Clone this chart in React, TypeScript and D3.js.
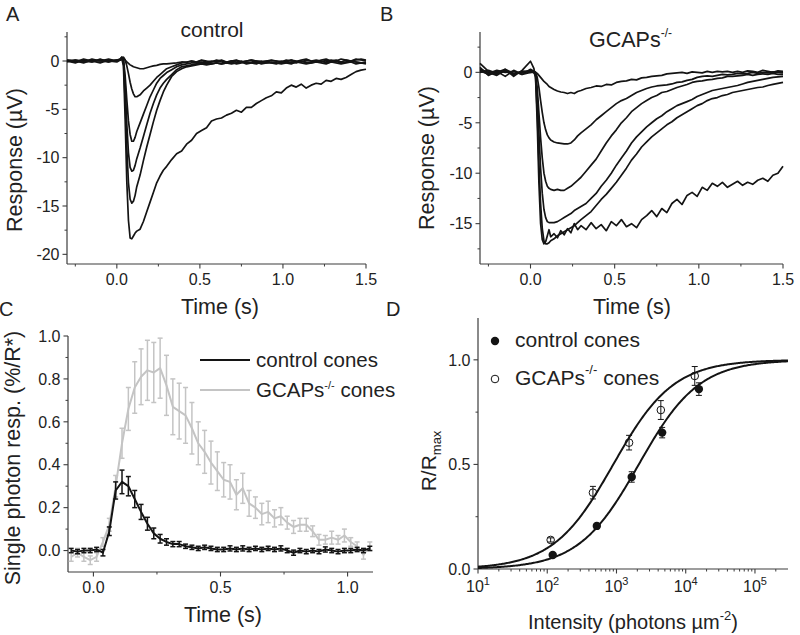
import React from "react";
import * as d3 from "d3";

const FONT = "'Liberation Sans', Arial, Helvetica, sans-serif";
const AXIS = "#3c3c3c";
const INK = "#141414";
const LIGHT = "#c4c4c4";
const TXT = "#222";

// ---------- Panels A & B: flash response families (time in s, response in µV)
const TRACE_TIME = [
  -0.3, -0.25, -0.2, -0.15, -0.1, -0.05, 0,
  0.02, 0.03, 0.04, 0.05, 0.06, 0.07, 0.08, 0.09, 0.1, 0.11, 0.12,
  0.14, 0.16, 0.18, 0.2, 0.22, 0.24, 0.26, 0.28, 0.3,
  0.33, 0.36, 0.39, 0.42, 0.45, 0.48, 0.51, 0.54, 0.57, 0.6,
  0.63, 0.66, 0.69, 0.72, 0.75, 0.78, 0.81, 0.84, 0.87, 0.9,
  0.93, 0.96, 0.99, 1.02, 1.05, 1.08, 1.11, 1.14, 1.17, 1.2,
  1.23, 1.26, 1.29, 1.32, 1.35, 1.38, 1.41, 1.44, 1.47, 1.5,
];

const A_TRACE_1 = [
  0.0, -0.2, 0.1, -0.1, 0.2, -0.1, 0.1,
  0.1, 0.2, 0.3, 0.1, -0.1, -0.25, -0.4, -0.5, -0.6, -0.65, -0.7,
  -0.8, -0.8, -0.7, -0.6, -0.5, -0.45, -0.35, -0.3, -0.3,
  -0.25, -0.2, -0.1, -0.15, 0.0, -0.1, 0.05, -0.1, 0.0, -0.05,
  0.1, -0.1, 0.0, 0.05, -0.1, 0.0, 0.1, -0.05, 0.0, -0.1,
  0.05, 0.0, -0.1, 0.1, 0.0, -0.05, 0.1, 0.2, 0.0, -0.1,
  0.1, 0.2, 0.0, 0.1, -0.1, 0.1, 0.0, 0.2, 0.1, 0.0,
];
const A_TRACE_2 = [
  0.1, 0.0, -0.2, 0.1, 0.0, 0.2, 0.0,
  0.1, 0.3, 0.4, 0.1, -0.5, -1.3, -2.2, -2.9, -3.4, -3.7, -3.7,
  -3.5, -3.1, -2.8, -2.5, -2.1, -1.7, -1.4, -1.1, -0.8,
  -0.6, -0.4, -0.2, -0.1, 0.0, -0.1, 0.1, 0.0, -0.1, 0.1,
  0.0, -0.1, 0.0, 0.1, -0.1, 0.0, 0.1, 0.0, -0.1, 0.0,
  0.1, 0.0, -0.1, 0.0, 0.1, 0.0, -0.1, 0.1, 0.0, 0.1,
  0.0, -0.1, 0.1, 0.0, 0.2, 0.1, 0.0, 0.1, 0.2, 0.1,
];
const A_TRACE_3 = [
  -0.1, 0.1, 0.0, -0.1, 0.1, 0.0, 0.1,
  0.1, 0.4, 0.2, -1.5, -4.0, -6.2, -7.6, -8.3, -8.3, -7.9, -7.3,
  -6.4, -5.5, -4.6, -3.7, -3.0, -2.3, -1.8, -1.5, -1.2,
  -0.9, -0.6, -0.4, -0.3, -0.2, -0.2, -0.1, -0.2, -0.1, 0.0,
  -0.1, -0.2, 0.0, -0.1, 0.0, -0.2, -0.1, 0.0, -0.1, 0.0,
  -0.2, -0.1, 0.0, -0.1, 0.1, -0.1, 0.0, -0.2, -0.1, 0.0,
  -0.1, 0.1, -0.1, 0.0, -0.2, -0.1, 0.0, -0.1, -0.2, -0.1,
];
const A_TRACE_4 = [
  0.0, -0.1, 0.2, 0.0, -0.2, 0.1, 0.0,
  0.2, 0.4, 0.1, -2.5, -6.5, -9.5, -11.0, -11.4, -11.3, -10.8, -10.1,
  -9.0, -7.8, -6.6, -5.4, -4.4, -3.5, -2.8, -2.3, -1.9,
  -1.4, -0.9, -0.6, -0.5, -0.4, -0.3, -0.3, -0.2, -0.3, -0.2,
  -0.3, -0.2, -0.3, -0.2, -0.1, -0.3, -0.2, -0.1, -0.3, -0.2,
  -0.2, -0.3, -0.1, -0.2, -0.3, -0.1, -0.2, -0.3, -0.2, -0.1,
  -0.2, -0.3, -0.1, -0.2, -0.3, -0.2, -0.1, -0.3, -0.2, -0.3,
];
const A_TRACE_5 = [
  0.1, 0.0, -0.1, 0.2, 0.0, -0.1, 0.1,
  0.2, 0.3, -0.2, -4.0, -9.0, -12.6, -14.3, -14.7, -14.5, -13.9, -13.0,
  -11.8, -10.3, -8.9, -7.6, -6.3, -5.1, -4.1, -3.2, -2.5,
  -1.6, -1.1, -0.8, -0.6, -0.5, -0.4, -0.3, -0.4, -0.3, -0.2,
  -0.3, -0.2, -0.1, -0.3, -0.2, -0.1, -0.2, -0.3, -0.1, -0.2,
  -0.1, -0.2, -0.3, -0.2, -0.1, -0.2, 0.0, -0.1, -0.2, -0.1,
  0.0, -0.2, -0.1, 0.0, -0.2, -0.1, 0.0, -0.1, -0.2, -0.2,
];
const A_TRACE_6 = [
  0.0, 0.1, -0.1, 0.0, 0.1, 0.0, -0.1,
  0.1, 0.2, -0.5, -6.0, -12.5, -16.5, -18.3, -18.4, -18.1, -17.8, -17.6,
  -17.4, -16.6, -15.6, -14.6, -13.6, -12.6, -11.9, -11.3, -10.9,
  -10.2, -9.6, -9.3, -8.6, -8.2, -7.5, -7.2, -6.9, -6.2, -6.0,
  -5.9, -5.6, -5.4, -5.1, -5.3, -4.8, -4.8, -4.4, -4.1, -3.8,
  -3.6, -3.2, -3.3, -2.8, -2.5, -2.7, -2.4, -2.8, -2.5, -2.3,
  -2.4, -2.0, -2.1, -1.8, -1.9, -1.7, -1.4, -1.1, -0.95, -0.85,
];

const B_TRACE_1 = [
  0.5, -0.3, 0.1, -0.4, 0.2, -0.2, 0.3,
  0.1, 0.0, -0.1, -0.3, -0.5, -0.7, -0.9, -1.05, -1.2, -1.4, -1.5,
  -1.7, -1.85, -1.95, -2.0, -2.1, -2.0, -2.1, -1.9, -1.8,
  -1.6, -1.5, -1.35, -1.4, -1.2, -1.25, -1.0, -0.9, -0.85, -0.7,
  -0.75, -0.55, -0.5, -0.4, -0.35, -0.3, -0.15, -0.1, -0.05, 0.0,
  -0.1, 0.05, 0.0, -0.05, 0.1, 0.0, 0.1, 0.05, 0.1, 0.0,
  0.1, 0.0, 0.15, 0.1, 0.0, 0.2, 0.1, 0.0, 0.15, 0.1,
];
const B_TRACE_2 = [
  0.3, 0.0, -0.3, 0.2, -0.2, 0.1, 0.0,
  0.1, 0.0, -0.5, -1.5, -2.8, -4.0, -5.0, -5.7, -6.2, -6.5, -6.7,
  -6.9, -7.0, -7.05, -7.1, -7.1, -7.0, -6.7, -6.3, -6.0,
  -5.6, -5.2, -4.7, -4.3, -3.9, -3.5, -3.1, -2.8, -2.6, -2.3,
  -2.0, -1.8, -1.6, -1.45, -1.35, -1.3, -1.25, -1.15, -1.0, -0.95,
  -0.8, -0.7, -0.5, -0.4, -0.35, -0.4, -0.3, -0.2, -0.25, -0.2,
  -0.1, -0.15, -0.1, 0.0, -0.1, 0.0, -0.05, 0.05, 0.0, -0.05,
];
const B_TRACE_3 = [
  0.2, -0.2, 0.0, 0.3, -0.1, 0.0, 0.2,
  0.1, -0.2, -1.5, -4.0, -6.5, -8.5, -10.0, -10.8, -11.3, -11.5, -11.6,
  -11.7, -11.6, -11.7, -11.7, -11.5, -11.3, -11.0, -10.7, -10.4,
  -9.8, -9.2, -8.6, -7.8, -7.0, -6.3, -5.7, -5.0, -4.5, -3.9,
  -3.5, -3.1, -2.8, -2.5, -2.3, -2.0, -1.9, -1.7, -1.5, -1.35,
  -1.2, -1.0, -0.9, -0.85, -0.75, -0.7, -0.6, -0.55, -0.4, -0.4,
  -0.35, -0.3, -0.2, -0.3, -0.2, -0.15, -0.2, -0.1, -0.2, -0.2,
];
const B_TRACE_4 = [
  0.0, 0.2, -0.1, 0.1, -0.2, 0.1, 0.1,
  0.0, -0.3, -2.5, -6.0, -9.5, -12.0, -13.6, -14.4, -14.8, -14.9, -14.9,
  -14.9, -14.8, -14.6, -14.4, -14.2, -14.0, -13.7, -13.5, -13.3,
  -13.0, -12.5, -12.0, -11.3, -10.7, -10.0, -9.2, -8.5, -7.8, -7.0,
  -6.4, -5.9, -5.4, -5.0, -4.6, -4.3, -3.9, -3.6, -3.3, -3.1,
  -2.9, -2.7, -2.4, -2.2, -2.0, -1.8, -1.7, -1.6, -1.5, -1.4,
  -1.3, -1.15, -1.0, -0.9, -0.8, -0.7, -0.6, -0.5, -0.45, -0.4,
];
const B_TRACE_5 = [
  0.1, -0.1, 0.2, 0.0, 0.1, -0.2, 0.0,
  0.0, -0.4, -4.0, -9.0, -13.0, -15.5, -16.7, -17.0, -17.0, -16.9, -16.7,
  -16.5, -16.2, -16.0, -15.8, -15.6, -15.4, -15.2, -14.9, -14.6,
  -14.2, -13.8, -13.2, -12.6, -12.1, -11.5, -10.9, -10.2, -9.5, -8.7,
  -8.1, -7.4, -6.9, -6.4, -6.0, -5.6, -5.2, -4.9, -4.5, -4.2,
  -3.9, -3.6, -3.3, -3.1, -2.8, -2.6, -2.5, -2.3, -2.2, -2.0,
  -1.9, -1.8, -1.7, -1.6, -1.5, -1.45, -1.3, -1.2, -1.1, -1.0,
];
const B_TRACE_6 = [
  0.9, 0.1, -0.2, 0.3, -0.4, 0.2, 1.1,
  0.4, -0.5, -5.0, -11.0, -15.0, -16.6, -17.0, -16.8, -16.2, -15.6, -16.3,
  -16.0, -16.4, -15.7, -16.1, -15.5, -15.9, -15.0, -15.6, -15.2,
  -15.6, -14.9, -15.5, -15.1, -15.7, -14.8, -15.2, -14.6, -15.3, -15.0,
  -15.4, -14.6, -14.2, -13.7, -14.3, -13.5, -13.9, -13.0, -12.6, -13.1,
  -12.2, -11.9, -12.3, -11.4, -11.7, -11.0, -11.3, -10.9, -11.4, -11.1,
  -10.8, -11.2, -10.9, -11.1, -10.7, -10.5, -10.8, -10.2, -10.0, -9.3,
];

const A_TRACES = [A_TRACE_1, A_TRACE_2, A_TRACE_3, A_TRACE_4, A_TRACE_5, A_TRACE_6];
const B_TRACES = [B_TRACE_1, B_TRACE_2, B_TRACE_3, B_TRACE_4, B_TRACE_5, B_TRACE_6];

// ---------- Panel C: single photon responses (%/R*)
const C_TIME = [
  -0.0875, -0.0625, -0.0375, -0.0125, 0.0125, 0.0375, 0.0625, 0.0875,
  0.1125, 0.1375, 0.1625, 0.1875, 0.2125, 0.2375, 0.2625, 0.2875,
  0.3125, 0.3375, 0.3625, 0.3875, 0.4125, 0.4375, 0.4625, 0.4875,
  0.5125, 0.5375, 0.5625, 0.5875, 0.6125, 0.6375, 0.6625, 0.6875,
  0.7125, 0.7375, 0.7625, 0.7875, 0.8125, 0.8375, 0.8625, 0.8875,
  0.9125, 0.9375, 0.9625, 0.9875, 1.0125, 1.0375, 1.0625, 1.0875,
];
const C_CONTROL = [
  0.0, -0.005, 0.0, 0.0, 0.005, -0.01, 0.09, 0.28,
  0.32, 0.3, 0.24, 0.18, 0.125, 0.08, 0.055, 0.04,
  0.03, 0.03, 0.02, 0.015, 0.01, 0.015, 0.01, 0.005,
  0.005, 0.01, 0.005, 0.01, 0.005, 0.01, 0.005, 0.01,
  0.005, 0.01, 0.0, -0.01, 0.0, -0.005, 0.0, -0.005,
  0.005, 0.0, -0.005, 0.0, 0.0, 0.005, 0.0, 0.01,
];
const C_CONTROL_ERR = [
  0.01, 0.01, 0.01, 0.01, 0.01, 0.015, 0.02, 0.04,
  0.055, 0.045, 0.04, 0.035, 0.03, 0.025, 0.02, 0.015,
  0.012, 0.012, 0.01, 0.01, 0.01, 0.01, 0.01, 0.01,
  0.01, 0.012, 0.01, 0.012, 0.01, 0.01, 0.01, 0.01,
  0.01, 0.012, 0.01, 0.012, 0.01, 0.01, 0.01, 0.01,
  0.012, 0.01, 0.01, 0.01, 0.01, 0.01, 0.01, 0.01,
];
const C_GCAPS = [
  -0.03, -0.01, -0.03, -0.045, -0.03, 0.04, 0.12, 0.3,
  0.5, 0.66, 0.76, 0.81, 0.84, 0.83, 0.85, 0.77,
  0.67, 0.65, 0.63, 0.57, 0.5, 0.46, 0.41, 0.37,
  0.33, 0.32, 0.26, 0.29, 0.22, 0.2, 0.17, 0.18,
  0.15, 0.16, 0.13, 0.11, 0.12, 0.12, 0.09, 0.05,
  0.05, 0.06, 0.05, 0.07, 0.04, 0.02, -0.02, 0.02,
];
const C_GCAPS_ERR = [
  0.02, 0.02, 0.02, 0.02, 0.02, 0.02, 0.03, 0.05,
  0.07, 0.1, 0.12, 0.13, 0.14, 0.14, 0.14, 0.14,
  0.13, 0.13, 0.13, 0.12, 0.1, 0.1, 0.1, 0.09,
  0.08, 0.08, 0.07, 0.07, 0.06, 0.05, 0.05, 0.05,
  0.04, 0.04, 0.03, 0.03, 0.03, 0.03, 0.025, 0.025,
  0.02, 0.03, 0.02, 0.03, 0.02, 0.02, 0.02, 0.02,
];

// ---------- Panel D: intensity-response (R/Rmax)
const D_CONTROL_I = [120, 520, 1660, 4570, 15500];
const D_CONTROL_R = [0.067, 0.206, 0.44, 0.652, 0.86];
const D_CONTROL_ERR = [0.008, 0.012, 0.025, 0.025, 0.03];
const D_GCAPS_I = [112, 457, 1520, 4370, 13500];
const D_GCAPS_R = [0.139, 0.365, 0.604, 0.76, 0.923];
const D_GCAPS_ERR = [0.01, 0.03, 0.035, 0.045, 0.045];
// half-saturating intensities of the Michaelis fits: [control, GCAPs-/-]
const D_FIT_HALF = [2100, 900];
const D_DECADES = [10, 100, 1000, 10000, 100000];

// ---------- scales
const xA = d3.scaleLinear().domain([-0.3, 1.5]).range([67, 366]);
const yA = d3.scaleLinear().domain([-21, 3]).range([264, 32]);
const xB = d3.scaleLinear().domain([-0.3, 1.5]).range([480, 783]);
const yB = d3.scaleLinear().domain([-19, 4]).range([264, 32]);
const xC = d3.scaleLinear().domain([-0.1, 1.1]).range([68, 373]);
const yC = d3.scaleLinear().domain([-0.1, 1.0]).range([572, 336]);
const xD = d3.scaleLog().domain([10, 3e5]).range([478, 788]);
const yD = d3.scaleLinear().domain([0, 1.2]).range([569, 318]);

const fmt1 = d3.format(".1f");
const fmtInt = (v: number) => String(v);

function LeftAxis({ x, scale, major, minor, fmt }: any) {
  const [r0, r1] = scale.range();
  return (
    <g>
      <line x1={x} x2={x} y1={r0} y2={r1} stroke={AXIS} strokeWidth={1.2} />
      {minor.map((v: number) => (
        <line key={"m" + v} x1={x - 2.5} x2={x} y1={scale(v)} y2={scale(v)} stroke={AXIS} strokeWidth={1} />
      ))}
      {major.map((v: number) => (
        <g key={"M" + v}>
          <line x1={x - 4.5} x2={x} y1={scale(v)} y2={scale(v)} stroke={AXIS} strokeWidth={1.1} />
          <text x={x - 7.5} y={scale(v)} dy="0.36em" textAnchor="end" fontSize={16} fill={TXT}>
            {fmt(v)}
          </text>
        </g>
      ))}
    </g>
  );
}

function BottomAxis({ y, scale, major, minor, fmt, labelDy = 21 }: any) {
  const [r0, r1] = scale.range();
  return (
    <g>
      <line x1={r0} x2={r1} y1={y} y2={y} stroke={AXIS} strokeWidth={1.2} />
      {minor.map((v: number) => (
        <line key={"m" + v} x1={scale(v)} x2={scale(v)} y1={y} y2={y + 2.5} stroke={AXIS} strokeWidth={1} />
      ))}
      {major.map((v: number) => (
        <g key={"M" + v}>
          <line x1={scale(v)} x2={scale(v)} y1={y} y2={y + 4.5} stroke={AXIS} strokeWidth={1.1} />
          <text x={scale(v)} y={y + labelDy} textAnchor="middle" fontSize={16} fill={TXT}>
            {fmt(v)}
          </text>
        </g>
      ))}
    </g>
  );
}

function Traces({ traces, x, y }: any) {
  const line = d3
    .line<number>()
    .x((_, i) => x(TRACE_TIME[i]))
    .y((v) => y(v));
  return (
    <g>
      {traces.map((tr: number[], i: number) => (
        <path key={i} d={line(tr) || ""} fill="none" stroke={INK} strokeWidth={1.7} strokeLinejoin="round" />
      ))}
    </g>
  );
}

function SeriesWithErr({ values, errs, color, width }: any) {
  const line = d3
    .line<number>()
    .x((_, i) => xC(C_TIME[i]))
    .y((v) => yC(v));
  return (
    <g>
      {values.map((v: number, i: number) => {
        const cx = xC(C_TIME[i]);
        const y1 = yC(v - errs[i]);
        const y2 = yC(v + errs[i]);
        return (
          <g key={i} stroke={color} strokeWidth={1.5}>
            <line x1={cx} x2={cx} y1={y1} y2={y2} />
            <line x1={cx - 2.5} x2={cx + 2.5} y1={y1} y2={y1} />
            <line x1={cx - 2.5} x2={cx + 2.5} y1={y2} y2={y2} />
          </g>
        );
      })}
      <path d={line(values) || ""} fill="none" stroke={color} strokeWidth={width} strokeLinejoin="round" />
    </g>
  );
}

export default function App() {
  const yTicksAMinor = [2.5, -2.5, -7.5, -12.5, -17.5];
  const xTicksABMinor = [-0.25, 0.25, 0.75, 1.25];
  const [dLo, dHi] = xD.domain();
  const dMinorX: number[] = [];
  D_DECADES.forEach((dec) => {
    [2, 3, 4, 5, 6, 7, 8, 9].forEach((m) => {
      const v = dec * m;
      if (v > dLo && v < dHi) dMinorX.push(v);
    });
  });
  // sample the fit curve evenly in log-space across the axis
  const fitX = d3.range(0, 301).map((i) => Math.pow(10, Math.log10(dLo) + (i / 300) * (Math.log10(dHi) - Math.log10(dLo))));
  const fitLine = (half: number) =>
    d3
      .line<number>()
      .x((v) => xD(v))
      .y((v) => yD(v / (v + half)))(fitX) || "";

  return (
    <svg
      width={800}
      height={635}
      style={{ position: "absolute", left: 0, top: 0, background: "#fff" }}
      fontFamily={FONT}
    >
      <rect x={0} y={0} width={800} height={635} fill="#fff" />

      {/* Panel letters */}
      <g fontSize={20} fill={TXT}>
        <text x={6} y={21}>A</text>
        <text x={380} y={21}>B</text>
        <text x={-1} y={316}>C</text>
        <text x={386} y={316}>D</text>
      </g>

      {/* ---------------- Panel A ---------------- */}
      <LeftAxis x={67} scale={yA} major={[0, -5, -10, -15, -20]} minor={yTicksAMinor} fmt={fmtInt} />
      <BottomAxis y={264} scale={xA} major={[0, 0.5, 1, 1.5]} minor={xTicksABMinor} fmt={fmt1} />
      <Traces traces={A_TRACES} x={xA} y={yA} />
      <text x={212} y={37} textAnchor="middle" fontSize={21} fill={TXT}>control</text>
      <text transform="translate(22,160) rotate(-90)" textAnchor="middle" fontSize={21.5} fill={TXT}>
        Response (µV)
      </text>
      <text x={220} y={314} textAnchor="middle" fontSize={21.5} fill={TXT}>Time (s)</text>

      {/* ---------------- Panel B ---------------- */}
      <LeftAxis x={480} scale={yB} major={[0, -5, -10, -15]} minor={[2.5, -2.5, -7.5, -12.5, -17.5]} fmt={fmtInt} />
      <BottomAxis y={264} scale={xB} major={[0, 0.5, 1, 1.5]} minor={xTicksABMinor} fmt={fmt1} />
      <Traces traces={B_TRACES} x={xB} y={yB} />
      <text x={589} y={46.5} fontSize={21.5} fill={TXT}>
        GCAPs
        <tspan fontSize={12} dy={-10}>-/-</tspan>
      </text>
      <text transform="translate(434,158) rotate(-90)" textAnchor="middle" fontSize={21.5} fill={TXT}>
        Response (µV)
      </text>
      <text x={632} y={314} textAnchor="middle" fontSize={21.5} fill={TXT}>Time (s)</text>

      {/* ---------------- Panel C ---------------- */}
      <LeftAxis
        x={68}
        scale={yC}
        major={[0, 0.2, 0.4, 0.6, 0.8, 1.0]}
        minor={[0.1, 0.3, 0.5, 0.7, 0.9]}
        fmt={fmt1}
      />
      <BottomAxis y={572} scale={xC} major={[0, 0.5, 1.0]} minor={[0.25, 0.75]} fmt={fmt1} />
      <SeriesWithErr values={C_GCAPS} errs={C_GCAPS_ERR} color={LIGHT} width={2} />
      <SeriesWithErr values={C_CONTROL} errs={C_CONTROL_ERR} color={INK} width={2} />
      <line x1={200} x2={250} y1={360} y2={360} stroke={INK} strokeWidth={2} />
      <text x={256} y={367} fontSize={20.5} fill={TXT}>control cones</text>
      <line x1={200} x2={250} y1={390} y2={390} stroke={LIGHT} strokeWidth={2} />
      <text x={256} y={397} fontSize={20.5} fill={TXT}>
        GCAPs
        <tspan fontSize={11} dy={-8}>-/-</tspan>
        <tspan dy={8}> cones</tspan>
      </text>
      <text transform="translate(20,458) rotate(-90)" textAnchor="middle" fontSize={21.5} fill={TXT}>
        Single photon resp. (%/R*)
      </text>
      <text x={223} y={622} textAnchor="middle" fontSize={21.5} fill={TXT}>Time (s)</text>

      {/* ---------------- Panel D ---------------- */}
      <g>
        <line x1={478} x2={478} y1={569} y2={318} stroke={AXIS} strokeWidth={1.2} />
        {[0.25, 0.75].map((v) => (
          <line key={v} x1={475.5} x2={478} y1={yD(v)} y2={yD(v)} stroke={AXIS} />
        ))}
        {[0, 0.5, 1.0].map((v) => (
          <g key={v}>
            <line x1={473.5} x2={478} y1={yD(v)} y2={yD(v)} stroke={AXIS} strokeWidth={1.1} />
            <text x={470.5} y={yD(v)} dy="0.36em" textAnchor="end" fontSize={16} fill={TXT}>
              {fmt1(v)}
            </text>
          </g>
        ))}
        <line x1={478} x2={788} y1={569} y2={569} stroke={AXIS} strokeWidth={1.2} />
        {dMinorX.map((v) => (
          <line key={v} x1={xD(v)} x2={xD(v)} y1={569} y2={571.5} stroke={AXIS} />
        ))}
        {D_DECADES.map((v) => (
          <g key={v}>
            <line x1={xD(v)} x2={xD(v)} y1={569} y2={573.5} stroke={AXIS} strokeWidth={1.1} />
            <text x={xD(v)} y={592} textAnchor="middle" fontSize={16} fill={TXT}>
              10
              <tspan fontSize={11} dy={-7}>{Math.round(Math.log10(v))}</tspan>
            </text>
          </g>
        ))}
      </g>
      <path d={fitLine(D_FIT_HALF[0])} fill="none" stroke={INK} strokeWidth={2} />
      <path d={fitLine(D_FIT_HALF[1])} fill="none" stroke={INK} strokeWidth={2} />
      {D_GCAPS_I.map((v, i) => {
        const cx = xD(v);
        const y1 = yD(D_GCAPS_R[i] - D_GCAPS_ERR[i]);
        const y2 = yD(D_GCAPS_R[i] + D_GCAPS_ERR[i]);
        return (
          <g key={"g" + i}>
            <g stroke={INK} strokeWidth={1}>
              <line x1={cx} x2={cx} y1={y1} y2={y2} />
              <line x1={cx - 3} x2={cx + 3} y1={y1} y2={y1} />
              <line x1={cx - 3} x2={cx + 3} y1={y2} y2={y2} />
            </g>
            <circle cx={cx} cy={yD(D_GCAPS_R[i])} r={3.8} fill="none" stroke={INK} strokeWidth={1} />
          </g>
        );
      })}
      {D_CONTROL_I.map((v, i) => {
        const cx = xD(v);
        const y1 = yD(D_CONTROL_R[i] - D_CONTROL_ERR[i]);
        const y2 = yD(D_CONTROL_R[i] + D_CONTROL_ERR[i]);
        return (
          <g key={"c" + i}>
            <g stroke={INK} strokeWidth={1}>
              <line x1={cx} x2={cx} y1={y1} y2={y2} />
              <line x1={cx - 3} x2={cx + 3} y1={y1} y2={y1} />
              <line x1={cx - 3} x2={cx + 3} y1={y2} y2={y2} />
            </g>
            <circle cx={cx} cy={yD(D_CONTROL_R[i])} r={4.2} fill={INK} />
          </g>
        );
      })}
      <circle cx={495} cy={341} r={4.2} fill={INK} />
      <text x={515} y={347} fontSize={21} fill={TXT}>control cones</text>
      <circle cx={495} cy={379} r={3.8} fill="#fff" stroke={INK} strokeWidth={1} />
      <text x={515} y={385} fontSize={21} fill={TXT}>
        GCAPs
        <tspan fontSize={13} dy={-11}>-/-</tspan>
        <tspan dy={11}> cones</tspan>
      </text>
      <text transform="translate(436,461) rotate(-90)" textAnchor="middle" fontSize={21} fill={TXT}>
        R/R
        <tspan fontSize={13} dy={5}>max</tspan>
      </text>
      <text x={633} y={629} textAnchor="middle" fontSize={20} fill={TXT}>
        Intensity (photons µm
        <tspan fontSize={13} dy={-9}>-2</tspan>
        <tspan dy={9}>)</tspan>
      </text>
    </svg>
  );
}
